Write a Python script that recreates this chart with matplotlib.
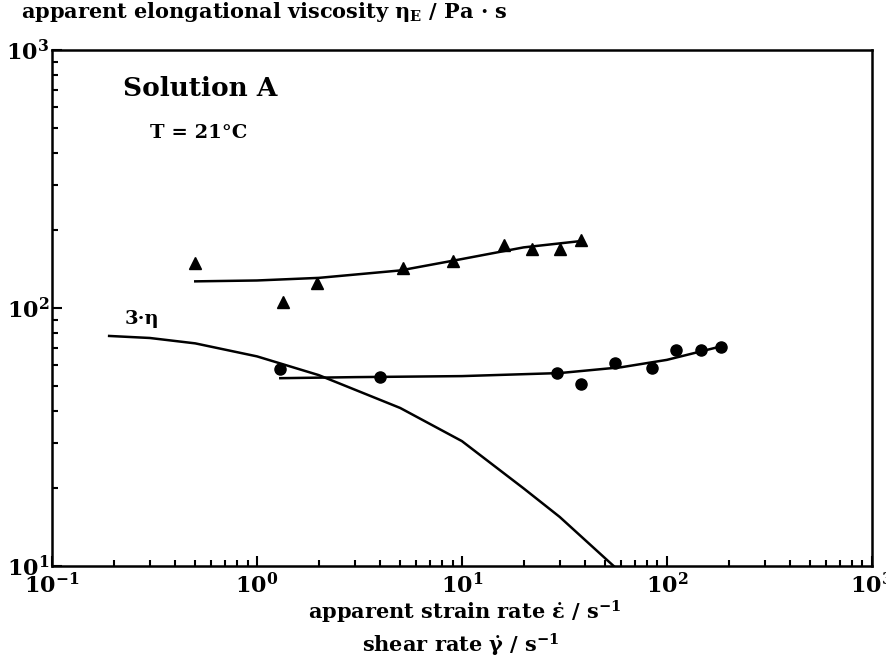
import matplotlib.pyplot as plt
import numpy as np

# triangles (upper series)
tri_x = [0.5, 1.34, 1.96, 5.15, 9.0, 16, 22, 30, 38]
tri_y = [149, 105.5, 125, 143, 152, 175, 170, 170, 183]
tri_fit_x = [0.5, 1, 2, 5, 10, 20, 38]
tri_fit_y = [127, 128, 131, 140, 155, 172, 182]

# circles (lower series)
cir_x = [1.3, 4.0, 29, 38, 56, 85, 111, 147, 183]
cir_y = [58, 54, 56, 51, 61, 58.5, 69, 68.7, 70.6]
cir_fit_x = [1.3, 3, 10, 30, 60, 100, 183]
cir_fit_y = [53.5, 54, 54.5, 56, 59, 63, 71]

# 3*eta shear viscosity curve
eta_x = [0.19, 0.3, 0.5, 1.0, 2.0, 5.0, 10, 20, 30, 55]
eta_y = [78, 76.6, 73, 65, 55, 41, 30.5, 20, 15.5, 10]

plt.rcParams['font.family'] = ['DejaVu Serif']
plt.rcParams['font.weight'] = 'bold'
plt.rcParams['mathtext.fontset'] = 'custom'
plt.rcParams['mathtext.rm'] = 'DejaVu Serif:bold'
plt.rcParams['mathtext.it'] = 'DejaVu Serif:bold'
plt.rcParams['mathtext.bf'] = 'DejaVu Serif:bold'

fig = plt.figure(figsize=(8.86, 6.61), dpi=100)
ax = fig.add_axes([0.0587, 0.1437, 0.9253, 0.7803])

ax.plot(eta_x, eta_y, color='k', lw=1.8)
ax.plot(tri_fit_x, tri_fit_y, color='k', lw=1.8)
ax.plot(cir_fit_x, cir_fit_y, color='k', lw=1.8)
ax.plot(tri_x, tri_y, '^', color='k', ms=8)
ax.plot(cir_x, cir_y, 'o', color='k', ms=8)

ax.set_xscale('log')
ax.set_yscale('log')
ax.set_xlim(0.1, 1000)
ax.set_ylim(10, 1000)

for s in ax.spines.values():
    s.set_linewidth(1.8)
ax.tick_params(which='both', direction='in', top=False, right=False, width=1.5, labelsize=16)
ax.tick_params(which='major', length=7)
ax.tick_params(which='minor', length=4)
ax.tick_params(axis='x', pad=5)
ax.tick_params(axis='y', pad=2)

ax.text(0.087, 0.925, 'Solution A', transform=ax.transAxes, fontsize=19, va='center')
ax.text(0.119, 0.84, 'T = 21°C', transform=ax.transAxes, fontsize=14, va='center')
ax.text(0.225, 91, '3·η', fontsize=14, va='center')

fig.text(0.024, 0.982, 'apparent elongational viscosity η$_\\mathrm{E}$ / Pa · s', fontsize=15, va='center')
fig.text(0.525, 0.073, 'apparent strain rate ε̇ / s$^{-1}$', fontsize=15, ha='center', va='center')
fig.text(0.52, 0.024, 'shear rate γ̇ / s$^{-1}$', fontsize=15, ha='center', va='center')

plt.savefig('out.png', dpi=100)
